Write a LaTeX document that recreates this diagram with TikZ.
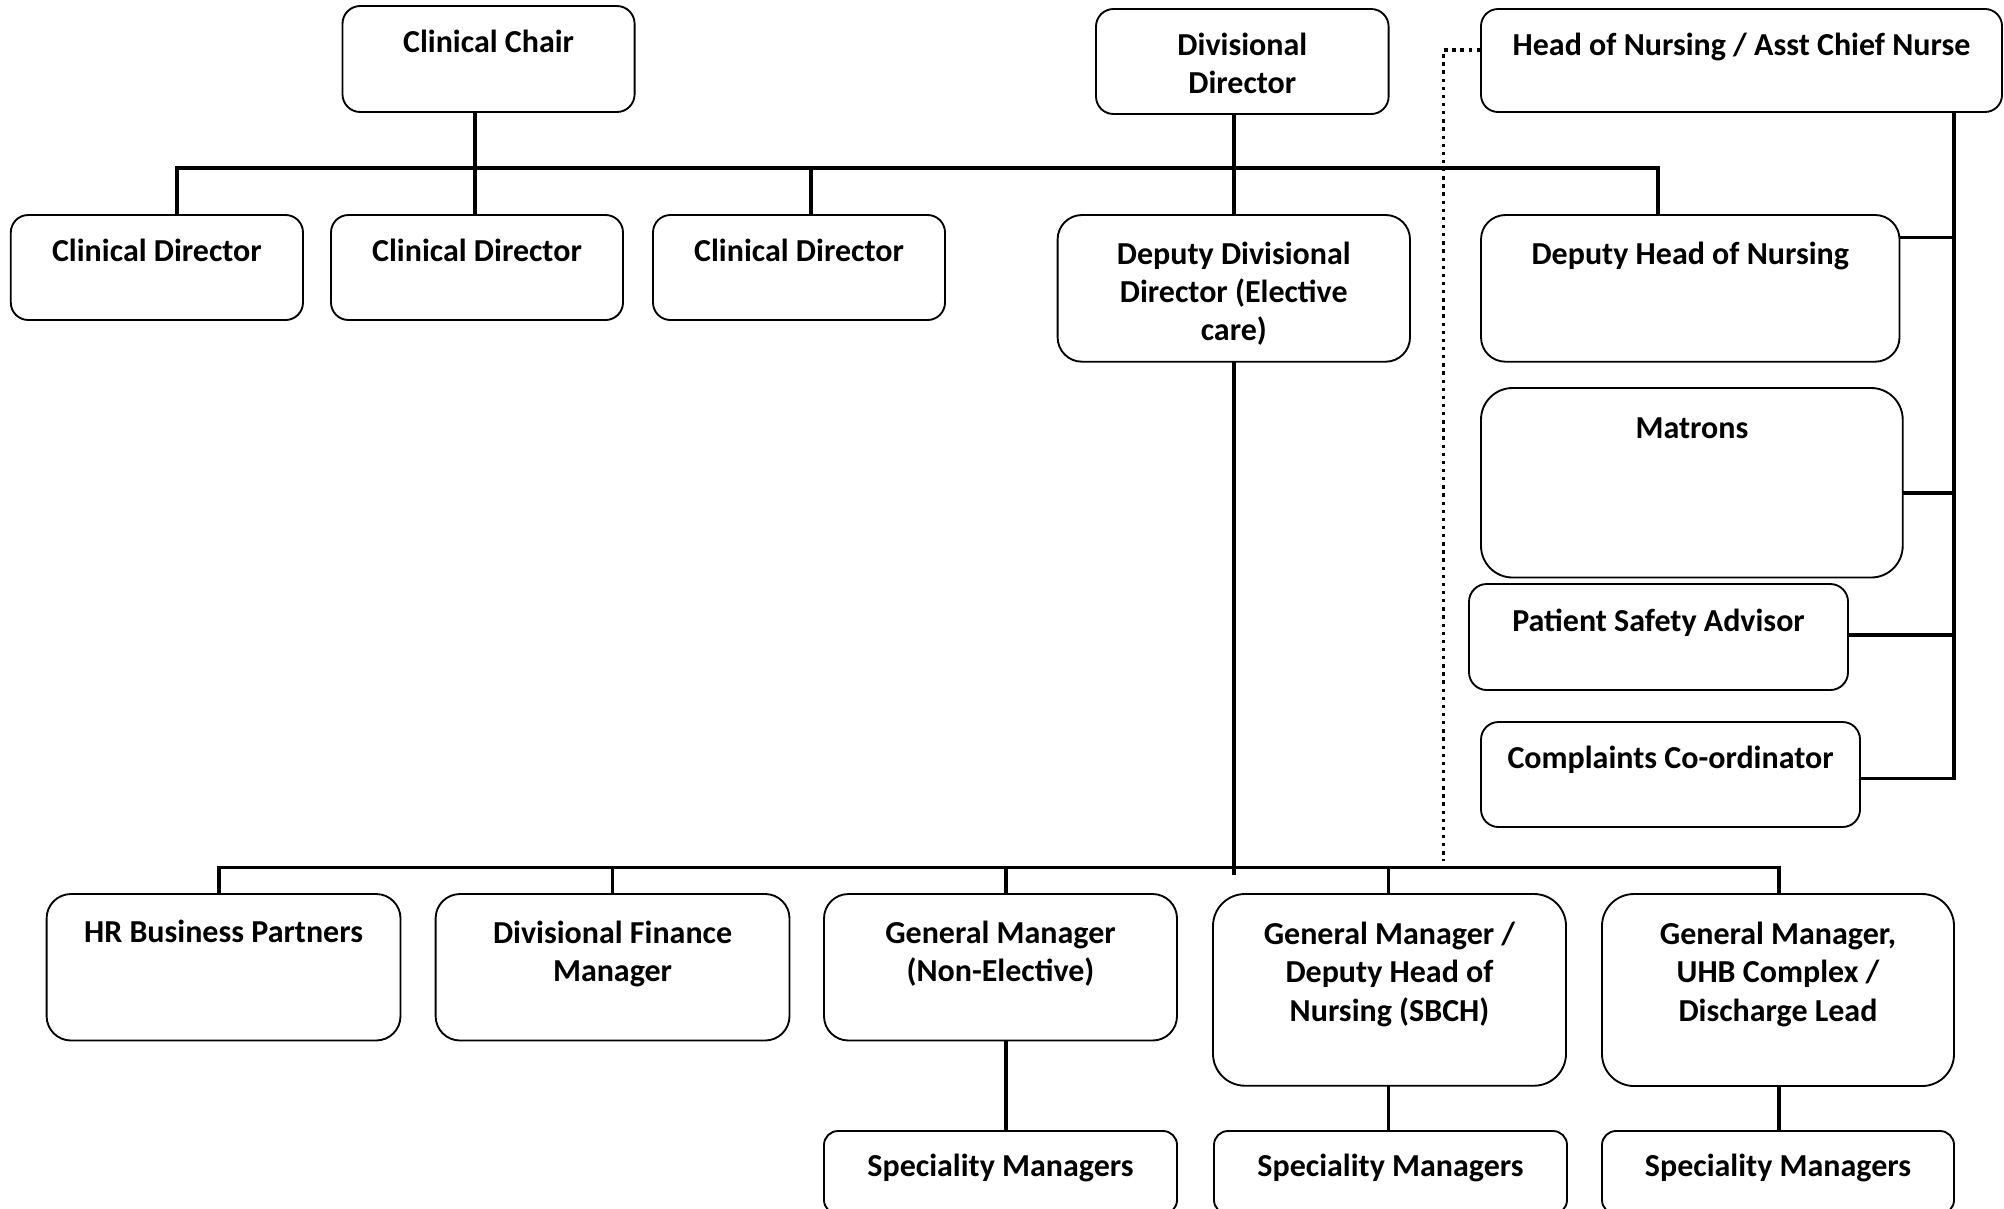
\documentclass[tikz,border=0pt]{standalone}
\usepackage{fontspec}
\setmainfont{Carlito}
\usetikzlibrary{fit}
\tikzset{
  box/.style={draw=black, line width=1.4pt, fill=white, inner sep=0pt},
  txt/.style={inner sep=0pt, align=center, font=\fontsize{24}{28.7}\selectfont\bfseries},
  conn/.style={draw=black, line width=2.7pt, line cap=rect},
  dotline/.style={draw=black, line width=2.6pt, dash pattern=on 2.5pt off 3.6pt}
}
% name, x1, y1, x2, y2, radius(pt), text offset, text
\newcommand\obox[8]{%
  \node[box, rounded corners=#6pt, fit={(#2,#3) (#4,#5)}] (#1) {};
  \node[txt, anchor=north] (#1t) at ({(#2+#4)/2},{#3+#7}) {\strut #8};}
\begin{document}
\begin{tikzpicture}[x=0.75pt,y=-0.75pt]
\useasboundingbox (0,0) rectangle (2004,1208);
\clip (0,0) rectangle (2004,1208);
% helper coordinates
\coordinate (tbL) at (176.7,167.7);
\coordinate (tbR) at (1658,167.7);
\coordinate (cs) at (475,167.7);
\coordinate (c3) at (811,167.7);
\coordinate (ds) at (1234,167.7);
\coordinate (ds2) at (1234,873);
\coordinate (bL) at (218.8,867.5);
\coordinate (bR) at (1779,867.5);
\coordinate (b3) at (1006,867.5);
\coordinate (b4) at (1388.6,867.5);
\coordinate (n1) at (1954,237.5);
\coordinate (n2) at (1954,492.7);
\coordinate (n3) at (1954,635);
\coordinate (nv) at (1954,778.3);
\coordinate (dc) at (1443.6,50);
\coordinate (dend) at (1443.6,861);

% boxes
\obox{chair}{342.5}{6}{634.6}{112}{13.3}{19.5}{Clinical Chair}
\obox{divdir}{1096}{9}{1388.6}{114}{13.1}{19.2}{Divisional\\Director}
\obox{hon}{1481}{9}{2002}{112}{12.8}{19.2}{Head of Nursing / Asst Chief Nurse}
\obox{cda}{10.8}{215}{303}{320}{13.1}{19}{Clinical Director}
\obox{cdb}{331}{215}{623}{320}{13.1}{19}{Clinical Director}
\obox{cdc}{653}{215}{945}{320}{13.1}{19}{Clinical Director}
\obox{ddd}{1057.6}{215}{1410}{361.7}{18.3}{22}{Deputy Divisional\\Director (Elective\\care)}
\obox{dhn}{1481}{215}{1899.5}{361.7}{18.3}{22.5}{Deputy Head of Nursing}
\obox{matrons}{1481}{388}{1902.7}{577.5}{23.7}{23.5}{Matrons}
\obox{psa}{1469}{584}{1848}{690}{13.3}{20.5}{Patient Safety Advisor}
\obox{comp}{1481}{722}{1860}{827}{13.1}{19.5}{Complaints Co-ordinator}
\obox{hr}{46.6}{894}{400.5}{1040.5}{18.3}{21}{HR Business Partners}
\obox{dfm}{435.6}{894}{789.5}{1040.5}{18.3}{22.5}{Divisional Finance\\Manager}
\obox{gmne}{824}{894}{1177}{1040.5}{18.3}{22.5}{General Manager\\(Non-Elective)}
\obox{gmsbch}{1213}{894}{1566}{1085.7}{24}{23.5}{General Manager /\\Deputy Head of\\Nursing (SBCH)}
\obox{gmuhb}{1602}{894}{1954}{1086}{24}{23.5}{General Manager,\\UHB Complex /\\Discharge Lead}
\obox{sma}{824}{1131}{1177}{1214}{10.5}{18}{Speciality Managers}
\obox{smb}{1214}{1131}{1567}{1214}{10.5}{18}{Speciality Managers}
\obox{smc}{1602}{1131}{1954}{1214}{10.5}{18}{Speciality Managers}

% connectors
\draw[conn] (cda.north -| tbL) -- (tbL) -- (tbR) -- (dhn.north -| tbR);
\draw[conn] (chair.south -| cs) -- (cdb.north -| cs);
\draw[conn] (c3) -- (cdc.north -| c3);
\draw[conn] (divdir.south -| ds) -- (ddd.north -| ds);
\draw[conn] (ddd.south -| ds) -- (ds2);
\draw[conn] (hr.north -| bL) -- (bL) -- (bR) -- (gmuhb.north -| bR);
\draw[conn] (bL -| dfm.north) -- (dfm.north);
\draw[conn] (b3) -- (gmne.north -| b3);
\draw[conn] (b4) -- (gmsbch.north -| b4);
\draw[conn] (gmne.south -| b3) -- (sma.north -| b3);
\draw[conn] (gmsbch.south -| b4) -- (smb.north -| b4);
\draw[conn] (gmuhb.south -| bR) -- (smc.north -| bR);
\draw[conn] (hon.south -| nv) -- (nv) -- (nv -| comp.east);
\draw[conn] (dhn.east |- n1) -- (n1);
\draw[conn] (matrons.east |- n2) -- (n2);
\draw[conn] (psa.east |- n3) -- (n3);
\draw[dotline] (hon.west |- dc) -- (dc) -- (dend);
\end{tikzpicture}
\end{document}
